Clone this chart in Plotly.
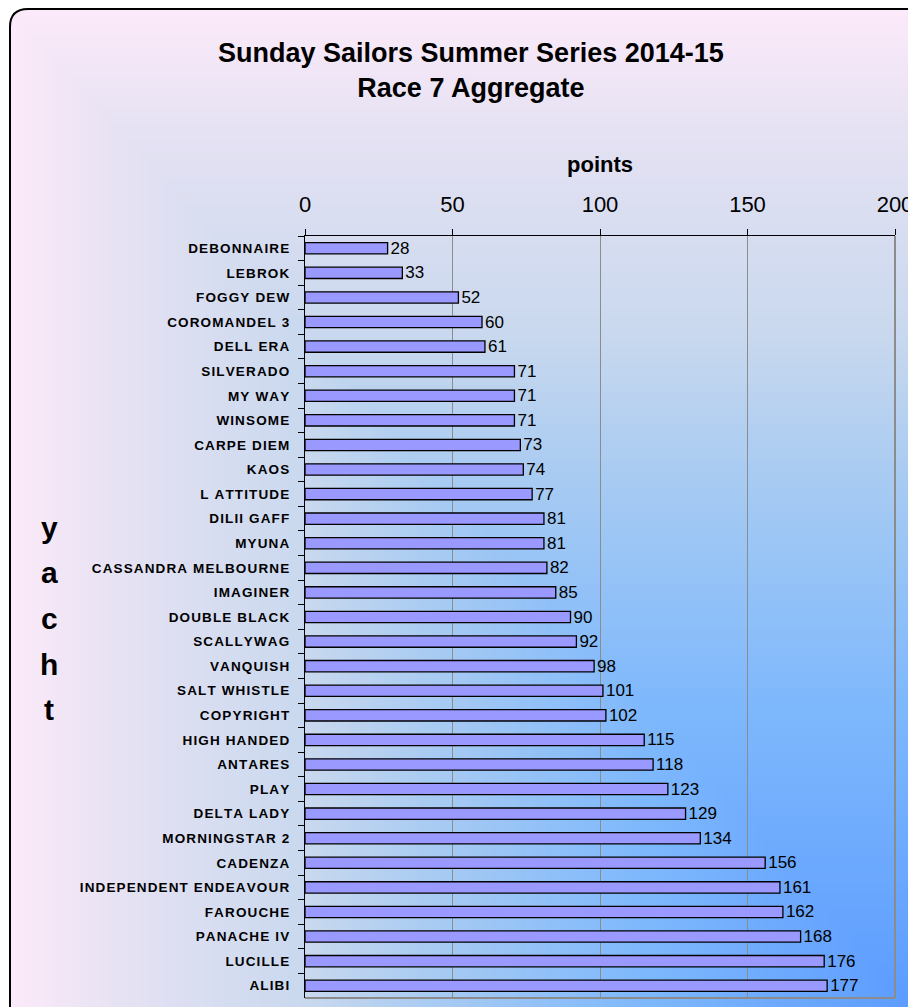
import base64
import struct
import zlib

import plotly.graph_objects as go

# ---------------- data ----------------
yachts = [
    "DEBONNAIRE", "LEBROK", "FOGGY DEW", "COROMANDEL 3", "DELL ERA",
    "SILVERADO", "MY WAY", "WINSOME", "CARPE DIEM", "KAOS",
    "L ATTITUDE", "DILII GAFF", "MYUNA", "CASSANDRA MELBOURNE", "IMAGINER",
    "DOUBLE BLACK", "SCALLYWAG", "VANQUISH", "SALT WHISTLE", "COPYRIGHT",
    "HIGH HANDED", "ANTARES", "PLAY", "DELTA LADY", "MORNINGSTAR 2",
    "CADENZA", "INDEPENDENT ENDEAVOUR", "FAROUCHE", "PANACHE IV", "LUCILLE",
    "ALIBI",
]
points = [
    28, 33, 52, 60, 61,
    71, 71, 71, 73, 74,
    77, 81, 81, 82, 85,
    90, 92, 98, 101, 102,
    115, 118, 123, 129, 134,
    156, 161, 162, 168, 176,
    177,
]
x_ticks = [0, 50, 100, 150, 200]

title_lines = ["Sunday Sailors Summer Series 2014-15", "Race 7 Aggregate"]
x_title = "points"
y_title = "yacht"

# the page's body margin puts the figure 8px in from the top-left window corner
OFF = 8
W, H = 916 - OFF, 1007 - OFF


def px(X):
    """window x (px) -> paper fraction"""
    return (X - OFF) / W


def py(Y):
    """window y (px) -> paper fraction"""
    return 1 - (Y - OFF) / H


# ---------------- background gradient image (style only) ----------------
def png_data_uri(w, h, pix):
    raw = b"".join(b"\x00" + bytes(row) for row in pix)

    def chunk(tag, data):
        c = struct.pack(">I", len(data)) + tag + data
        return c + struct.pack(">I", zlib.crc32(tag + data) & 0xFFFFFFFF)

    png = b"\x89PNG\r\n\x1a\n"
    png += chunk(b"IHDR", struct.pack(">IIBBBBB", w, h, 8, 2, 0, 0, 0))
    png += chunk(b"IDAT", zlib.compress(raw, 9))
    png += chunk(b"IEND", b"")
    return "data:image/png;base64," + base64.b64encode(png).decode()


stops = [
    (0.00, (252, 234, 249)),
    (0.12, (230, 226, 243)),
    (0.33, (200, 216, 238)),
    (0.47, (168, 203, 242)),
    (0.60, (144, 192, 248)),
    (0.70, (126, 184, 252)),
    (1.00, (92, 156, 255)),
]


def col(t):
    for (t0, c0), (t1, c1) in zip(stops[:-1], stops[1:]):
        if t <= t1:
            f = (t - t0) / (t1 - t0)
            return [int(round(a + (b - a) * f)) for a, b in zip(c0, c1)]
    return list(stops[-1][1])


gw, gh = 227, 250
pix = []
for j in range(gh):
    row = []
    v = j / (gh - 1)
    for i in range(gw):
        u = i / (gw - 1)
        row += col(min(u, v))
    pix.append(row)
bg_uri = png_data_uri(gw, gh, pix)

BX0, BY0 = 10, 9  # left/top of rounded panel (window px)
BX1, BY1 = 916, 1007

# ---------------- figure ----------------
SP = "\u200a"
labels = [SP.join(list(n)) for n in yachts]

fig = go.Figure()
fig.add_trace(
    go.Bar(
        x=points,
        y=labels,
        orientation="h",
        marker=dict(color="#9999FF", line=dict(color="#000000", width=1.3)),
        text=[str(p) for p in points],
        textposition="outside",
        constraintext="none",
        textfont=dict(family="Liberation Sans, Arial", size=17, color="#000000"),
        cliponaxis=False,
        hoverinfo="x+y",
    )
)

fig.update_layout(
    width=W,
    height=H,
    margin=dict(l=0, r=0, t=0, b=0, autoexpand=False),
    paper_bgcolor="#FFFFFF",
    plot_bgcolor="rgba(0,0,0,0)",
    showlegend=False,
    bargap=0.54,
    font=dict(family="Liberation Sans, Arial", color="#000000"),
    xaxis=dict(
        domain=[px(305), px(895)],
        side="top",
        range=[0, 200],
        tickvals=x_ticks,
        ticktext=[str(t) for t in x_ticks],
        tickfont=dict(size=22, color="#000000"),
        ticks="outside",
        ticklen=6,
        tickcolor="#000000",
        ticklabelstandoff=8,
        ticklabeloverflow="allow",
        automargin=False,
        showline=True,
        linecolor="#000000",
        linewidth=1.3,
        showgrid=True,
        gridcolor="#8c8c8c",
        gridwidth=1,
        zeroline=False,
        fixedrange=True,
    ),
    yaxis=dict(
        domain=[py(998), py(236)],
        autorange="reversed",
        type="category",
        tickfont=dict(size=13.5, color="#000000", weight="bold"),
        ticks="outside",
        tickson="boundaries",
        ticklen=6,
        tickcolor="#000000",
        ticklabelstandoff=12,
        ticklabeloverflow="allow",
        automargin=False,
        showline=True,
        linecolor="#000000",
        linewidth=1.3,
        showgrid=False,
        zeroline=False,
        fixedrange=True,
    ),
    images=[
        dict(
            source=bg_uri,
            xref="paper",
            yref="paper",
            x=px(BX0),
            y=py(BY0),
            sizex=(BX1 - BX0) / W,
            sizey=(BY1 - BY0) / H,
            xanchor="left",
            yanchor="top",
            sizing="stretch",
            layer="below",
        )
    ],
)

# rounded panel border + white corner
r = 18
corner_tl = (
    f"M {px(BX0)},{py(BY0)} L {px(BX0 + r)},{py(BY0)} "
    f"Q {px(BX0)},{py(BY0)} {px(BX0)},{py(BY0 + r)} Z"
)
border = (
    f"M {px(BX0)},{py(BY1 + 5)} "
    f"L {px(BX0)},{py(BY0 + r)} Q {px(BX0)},{py(BY0)} {px(BX0 + r)},{py(BY0)} "
    f"L {px(BX1 + 5)},{py(BY0)}"
)
fig.add_shape(type="path", path=corner_tl, xref="paper", yref="paper",
              fillcolor="#FFFFFF", line=dict(width=0), layer="below")
fig.add_shape(type="path", path=border, xref="paper", yref="paper",
              line=dict(color="#000000", width=2))

# grey right and bottom plot-area border
fig.add_shape(type="line", xref="x domain", yref="y domain", x0=1, x1=1, y0=0, y1=1,
              line=dict(color="#8c8c8c", width=2))
fig.add_shape(type="line", xref="x domain", yref="y domain", x0=0, x1=1, y0=0, y1=0,
              line=dict(color="#8c8c8c", width=2))

# titles
fig.add_annotation(
    text="<br>".join(f"<b>{t}</b>" for t in title_lines),
    xref="paper", yref="paper", x=px(471), y=py(70),
    xanchor="center", yanchor="middle", showarrow=False,
    font=dict(size=27, color="#000000"),
)
fig.add_annotation(
    text=f"<b>{x_title}</b>",
    xref="paper", yref="paper", x=px(600), y=py(164),
    xanchor="center", yanchor="middle", showarrow=False,
    font=dict(size=22, color="#000000"),
)
for k, ch in enumerate(y_title):
    fig.add_annotation(
        text=f"<b>{ch}</b>",
        xref="paper", yref="paper", x=px(49), y=py(527 + 45.7 * k),
        xanchor="center", yanchor="middle", showarrow=False,
        font=dict(size=30, color="#000000"),
    )

fig.write_html("out.html")
